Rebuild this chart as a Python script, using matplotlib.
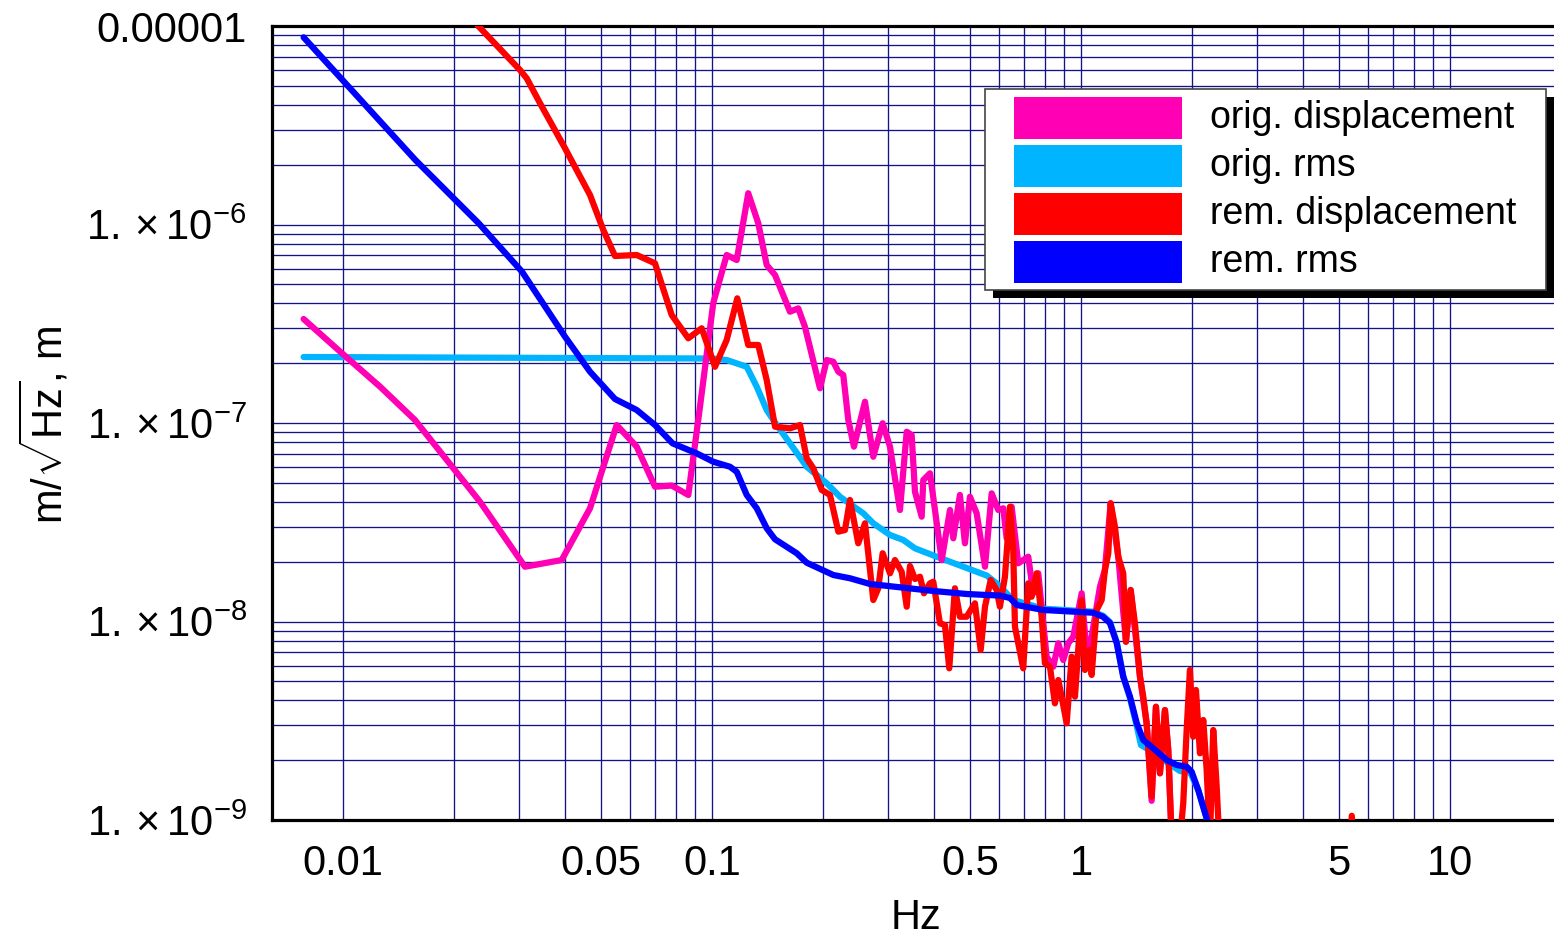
import matplotlib
matplotlib.use("Agg")
import matplotlib.pyplot as plt
from matplotlib.patches import Rectangle
from matplotlib.ticker import FixedLocator, FixedFormatter, NullFormatter

plt.rcParams["font.family"] = ["Liberation Sans", "DejaVu Sans"]
plt.rcParams["mathtext.fontset"] = "custom"
plt.rcParams["mathtext.rm"] = "Liberation Sans"
plt.rcParams["mathtext.it"] = "Liberation Sans:italic"
plt.rcParams["mathtext.bf"] = "Liberation Sans:bold"

# orig. displacement (Hz, m/sqrt(Hz))
mag_f = [0.00782, 0.00994, 0.0126, 0.01567, 0.0235, 0.03113, 0.03915, 0.04671, 0.05517, 0.06251,
         0.07007, 0.07776, 0.08627, 0.09279, 0.1008, 0.1096, 0.1167, 0.1254, 0.1335, 0.1407,
         0.1482, 0.1627, 0.1713, 0.1786, 0.1962, 0.2046, 0.2132, 0.22, 0.2269, 0.2341,
         0.2425, 0.2598, 0.2736, 0.2901, 0.3037, 0.3232, 0.3371, 0.3477, 0.3549, 0.3701,
         0.3738, 0.3898, 0.4021, 0.4193, 0.4416, 0.4508, 0.4699, 0.4848, 0.5002, 0.5216,
         0.5494, 0.5728, 0.5969, 0.6158, 0.6289, 0.6489, 0.6761, 0.7197, 0.7426, 0.7661,
         0.8072, 0.8414, 0.8681, 0.8954, 0.9239, 0.9531, 1.0044, 1.036, 1.069, 1.126,
         1.161, 1.2036, 1.2621, 1.324, 1.3636, 1.4454, 1.5066, 1.5544, 1.5968, 1.6371,
         1.6889, 1.7243, 1.7612]
mag_a = [3.341e-7, 2.244e-7, 1.524e-7, 1.035e-7, 4.015e-8, 1.888e-8, 2.04e-8, 3.718e-8, 9.77e-8, 7.6e-8,
         4.776e-8, 4.84e-8, 4.34e-8, 1.208e-7, 4.022e-7, 7.02e-7, 6.625e-7, 1.437e-6, 1.014e-6, 6.25e-7,
         5.568e-7, 3.636e-7, 3.782e-7, 3.055e-7, 1.496e-7, 2.077e-7, 2.036e-7, 1.813e-7, 1.745e-7, 1.035e-7,
         7.6e-8, 1.28e-7, 6.76e-8, 9.97e-8, 7.6e-8, 3.645e-8, 9.04e-8, 8.7e-8, 4.507e-8, 3.373e-8,
         5.16e-8, 5.58e-8, 3.645e-8, 2.04e-8, 3.645e-8, 2.625e-8, 4.34e-8, 2.477e-8, 4.25e-8, 3.51e-8,
         1.888e-8, 4.423e-8, 3.645e-8, 3.718e-8, 2.625e-8, 3.787e-8, 1.964e-8, 2.12e-8, 1.387e-8, 1.749e-8,
         6.65e-9, 5.92e-9, 7.77e-9, 6.4e-9, 7.77e-9, 8.38e-9, 1.387e-8, 6.92e-9, 8.38e-9, 1.497e-8,
         1.82e-8, 3.94e-8, 2.12e-8, 7.91e-9, 1.441e-8, 5.27e-9, 3.07e-9, 1.25e-9, 3.72e-9, 1.719e-9,
         3.58e-9, 2.253e-9, 8e-10]

# orig. rms (m)
cyan_f = [0.00782, 0.0999, 0.1096, 0.1242, 0.1322, 0.1407, 0.1497, 0.1627, 0.1806, 0.2046,
          0.2223, 0.257, 0.2736, 0.3037, 0.33, 0.3549, 0.4064, 0.4797, 0.5552, 0.5908,
          0.6289, 0.6554, 0.7903, 1.078, 1.147, 1.198, 1.25, 1.302, 1.358, 1.416,
          1.454, 1.566, 1.707, 1.855, 1.974, 2.079, 2.191, 2.25]
cyan_a = [2.15e-7, 2.113e-7, 2.077e-7, 1.92e-7, 1.524e-7, 1.163e-7, 9.77e-8, 7.9e-8, 6.02e-8, 4.97e-8,
          4.25e-8, 3.51e-8, 3.125e-8, 2.728e-8, 2.574e-8, 2.337e-8, 2.12e-8, 1.888e-8, 1.705e-8, 1.557e-8,
          1.387e-8, 1.283e-8, 1.16e-8, 1.12e-8, 1.07e-8, 9.95e-9, 7.9e-9, 5.3e-9, 4.1e-9, 2.98e-9,
          2.387e-9, 2.2e-9, 1.96e-9, 1.765e-9, 1.75e-9, 1.416e-9, 1.02e-9, 8.5e-10]

# rem. displacement (m/sqrt(Hz))
red_f = [0.021, 0.02326, 0.03018, 0.03147, 0.0342, 0.03997, 0.04671, 0.05076, 0.05459, 0.06251,
         0.07007, 0.07776, 0.08627, 0.09378, 0.1019, 0.1096, 0.1171, 0.1254, 0.1335, 0.1407,
         0.1482, 0.1627, 0.1732, 0.1806, 0.1882, 0.1983, 0.2088, 0.22, 0.2293, 0.2366,
         0.2491, 0.2598, 0.2736, 0.2823, 0.2901, 0.3037, 0.3132, 0.3266, 0.3371, 0.344,
         0.3549, 0.3662, 0.3754, 0.3898, 0.3979, 0.4148, 0.4279, 0.4396, 0.4554, 0.4699,
         0.49, 0.516, 0.5348, 0.5494, 0.5692, 0.5908, 0.6031, 0.6223, 0.6421, 0.6554,
         0.6624, 0.6761, 0.6975, 0.7197, 0.7351, 0.7584, 0.7824, 0.7987, 0.8241, 0.8501,
         0.8681, 0.8864, 0.9146, 0.9436, 0.9632, 1.0044, 1.0252, 1.0578, 1.069, 1.103,
         1.138, 1.1614, 1.186, 1.2036, 1.2362, 1.2621, 1.302, 1.324, 1.3636, 1.4005,
         1.4454, 1.475, 1.5066, 1.5544, 1.5968, 1.6371, 1.6889, 1.7243, 1.7612, 1.855,
         1.8935, 1.934, 1.974, 2.0151, 2.0497, 2.1014, 2.145, 2.191, 2.2367, 2.2831,
         2.3325, 2.3705, 2.6, 5.3, 5.42, 5.55, 19.0]
red_a = [1.276e-5, 1.0e-5, 6.0e-6, 5.45e-6, 4.08e-6, 2.42e-6, 1.408e-6, 9.38e-7, 6.94e-7, 7.02e-7,
         6.375e-7, 3.5e-7, 2.671e-7, 3.0e-7, 1.92e-7, 2.619e-7, 4.247e-7, 2.472e-7, 2.472e-7, 1.647e-7,
         9.58e-8, 9.4e-8, 9.77e-8, 6.64e-8, 5.91e-8, 4.6e-8, 4.34e-8, 2.835e-8, 2.89e-8, 4.094e-8,
         2.477e-8, 3.125e-8, 1.283e-8, 1.47e-8, 2.207e-8, 1.749e-8, 2.04e-8, 1.782e-8, 1.187e-8, 1.904e-8,
         1.637e-8, 1.681e-8, 1.387e-8, 1.557e-8, 1.586e-8, 9.79e-9, 9.6e-9, 5.81e-9, 1.47e-8, 1.057e-8,
         1.057e-8, 1.235e-8, 7.19e-9, 1.187e-8, 1.618e-8, 1.441e-8, 1.187e-8, 1.681e-8, 3.787e-8, 2.292e-8,
         9.41e-9, 7.77e-9, 5.81e-9, 1.557e-8, 1.333e-8, 1.749e-8, 1.057e-8, 6.16e-9, 5.92e-9, 3.87e-9,
         5.07e-9, 4.18e-9, 3.07e-9, 6.65e-9, 4.18e-9, 1.283e-8, 5.7e-9, 7.19e-9, 5.38e-9, 1.143e-8,
         1.283e-8, 1.817e-8, 2.207e-8, 3.94e-8, 3.003e-8, 2.12e-8, 1.749e-8, 7.91e-9, 1.441e-8, 9.79e-9,
         5.27e-9, 4.18e-9, 3.07e-9, 1.31e-9, 3.72e-9, 1.719e-9, 3.58e-9, 2.253e-9, 8e-10, 8e-10,
         1.214e-9, 2.84e-9, 5.7e-9, 2.628e-9, 4.52e-9, 2.168e-9, 3.19e-9, 1.786e-9, 8e-10, 2.84e-9,
         1.472e-9, 8e-10, 4e-10, 4e-10, 1.05e-9, 4e-10, 4e-10]

# rem. rms (m)
blue_f = [0.00782, 0.01571, 0.02332, 0.03056, 0.03997, 0.04671, 0.05459, 0.06251, 0.07007, 0.07816,
          0.09049, 0.1008, 0.1119, 0.1167, 0.1242, 0.1322, 0.1407, 0.1482, 0.1697, 0.1806,
          0.2132, 0.2366, 0.2681, 0.3232, 0.3979, 0.49, 0.5552, 0.6031, 0.6421, 0.6695,
          0.7903, 1.078, 1.147, 1.198, 1.25, 1.302, 1.358, 1.416, 1.475, 1.57,
          1.707, 1.817, 1.934, 1.995, 2.079, 2.191, 2.25]
blue_a = [8.77e-6, 2.113e-6, 1.014e-6, 5.785e-7, 2.72e-7, 1.813e-7, 1.321e-7, 1.163e-7, 9.77e-8, 7.9e-8,
          7.06e-8, 6.38e-8, 6.02e-8, 5.68e-8, 4.34e-8, 3.72e-8, 2.95e-8, 2.595e-8, 2.207e-8, 1.978e-8,
          1.715e-8, 1.651e-8, 1.545e-8, 1.487e-8, 1.425e-8, 1.376e-8, 1.36e-8, 1.352e-8, 1.313e-8, 1.211e-8,
          1.143e-8, 1.107e-8, 1.057e-8, 9.83e-9, 7.79e-9, 5.27e-9, 4.18e-9, 3.08e-9, 2.53e-9, 2.297e-9,
          2.006e-9, 1.893e-9, 1.856e-9, 1.751e-9, 1.416e-9, 1.02e-9, 8.5e-10]

legend_labels = ["orig. displacement", "orig. rms", "rem. displacement", "rem. rms"]
colors = ["#FF00B4", "#00B4FF", "#FF0000", "#0000FF"]

x_ticks = [0.01, 0.05, 0.1, 0.5, 1, 5, 10]
x_ticklabels = ["0.01", "0.05", "0.1", "0.5", "1", "5", "10"]
y_ticks = [1e-9, 1e-8, 1e-7, 1e-6, 1e-5]
y_ticklabels = [r"$1.\times10^{-9}$", r"$1.\times10^{-8}$", r"$1.\times10^{-7}$",
                r"$1.\times10^{-6}$", "0.00001"]

W, H = 1554, 943
fig = plt.figure(figsize=(W / 100, H / 100), dpi=100)
ax = fig.add_axes([272 / W, 1 - 820 / H, 1289 / W, 794 / H])
ax.set_xscale("log")
ax.set_yscale("log")

lw = 4.5
style = dict(lw=lw, solid_capstyle="round", solid_joinstyle="round")
ax.plot(cyan_f, cyan_a, color=colors[1], zorder=3, **style)
ax.plot(mag_f, mag_a, color=colors[0], zorder=3.1, **style)
ax.plot(red_f, red_a, color=colors[2], zorder=3.2, **style)
ax.plot(blue_f, blue_a, color=colors[3], zorder=3.3, **style)

ax.set_xlim(0.00642, 20)
ax.set_ylim(1e-9, 1e-5)

# grid: 1..9 x 10^k
gx = [m * 10.0 ** k for k in range(-2, 2) for m in range(1, 10)]
gy = [m * 10.0 ** k for k in range(-9, -5) for m in range(1, 10)] + [1e-5]
ax.xaxis.set_major_locator(FixedLocator(x_ticks))
ax.xaxis.set_major_formatter(FixedFormatter(x_ticklabels))
ax.xaxis.set_minor_locator(FixedLocator(gx))
ax.xaxis.set_minor_formatter(NullFormatter())
ax.yaxis.set_major_locator(FixedLocator(y_ticks))
ax.yaxis.set_major_formatter(FixedFormatter(y_ticklabels))
ax.yaxis.set_minor_locator(FixedLocator(gy))
ax.yaxis.set_minor_formatter(NullFormatter())
ax.grid(which="both", color="#141488", lw=0.95)
ax.set_axisbelow(True)
ax.tick_params(which="both", length=0)
ax.tick_params(axis="x", labelsize=30, pad=17)
ax.tick_params(axis="y", labelsize=30, pad=18)
for s in ax.spines.values():
    s.set_linewidth(2.3)
    s.set_color("black")

fig.text(916 / W, 1 - 918 / H, "Hz", fontsize=30, ha="center", va="center")
fig.text(45 / W, 1 - 425 / H, r"m/$\sqrt{\mathrm{Hz}}$, m", fontsize=30,
         ha="center", va="center", rotation=90)

# legend box with hard black shadow
def fx(x):
    return x / W

def fy(y):
    return 1 - y / H

tf = fig.transFigure
fig.patches.append(Rectangle((fx(993), fy(298)), fx(1562) - fx(993), fy(97) - fy(298),
                             transform=tf, facecolor="black", edgecolor="none", zorder=10))
fig.patches.append(Rectangle((fx(985), fy(290)), fx(1546) - fx(985), fy(89) - fy(290),
                             transform=tf, facecolor="white", edgecolor="#444444", lw=1.2, zorder=11))
for i, (lab, col) in enumerate(zip(legend_labels, colors)):
    top = 97 + 48 * i
    fig.patches.append(Rectangle((fx(1014), fy(top + 42)), fx(1182) - fx(1014), fy(top) - fy(top + 42),
                                 transform=tf, facecolor=col, edgecolor="none", zorder=12))
    fig.text(fx(1210), fy(top + 21), lab, fontsize=27, ha="left", va="center", zorder=13)

fig.savefig("out.png", dpi=100)
